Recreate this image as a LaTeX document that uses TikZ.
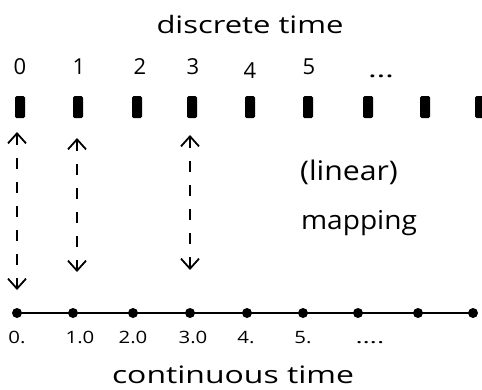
\documentclass[tikz,border=0pt]{standalone}
\usepackage{graphicx}
\usepackage{fontspec}
\setmainfont{Open Sans}
\usetikzlibrary{arrows.meta}
\newcommand\hscl[2]{\scalebox{#1}[1]{#2}}
\begin{document}
\begin{tikzpicture}[x=1pt,y=-1pt,
  bar/.style={fill=black,minimum width=10pt,minimum height=22pt,inner sep=0pt,rounded corners=1.5pt},
  dot/.style={circle,fill=black,minimum size=10pt,inner sep=0pt},
  lbl/.style={font=\fontsize{22}{26}\selectfont,inner sep=0pt,anchor=base},
  small/.style={font=\fontsize{17}{20}\selectfont,inner sep=0pt,anchor=base},
  title/.style={font=\fontsize{24}{28}\selectfont,inner sep=0pt,anchor=base},
  map/.style={dash pattern=on 11pt off 13pt,line width=1.8pt,{Straight Barb[length=10pt,width=18pt,line width=1.8pt]}-{Straight Barb[length=10pt,width=18pt,line width=1.8pt]}}]
\useasboundingbox (0,0) rectangle (482,389);
% title
\node[title] (dt) at (250,33) {\hscl{1.29}{discrete time}};
% digits
\node[lbl] (n0) at (20,74) {0};
\node[lbl] (n1) at (79,74) {1};
\node[lbl] (n2) at (140,74) {2};
\node[lbl] (n3) at (193,74) {3};
\node[lbl] (n4) at (250,78) {4};
\node[lbl] (n5) at (309,74) {5};
\node[lbl] (ndots) at (381,77) {\hscl{1.5}{\dots}};
% bars
\foreach \i/\x in {0/20,1/78,2/137,3/192,4/250,5/308,6/368,7/425,8/480}
  \node[bar] (d\i) at (\x,107) {};
% continuous axis dots
\foreach \i/\x in {0/17,1/73,2/133,3/190,4/247,5/303,6/358,7/418,8/473}
  \node[dot] (c\i) at (\x,313) {};
\draw[line width=2pt] (c0.center) -- (c8.center);
% labels under axis
\node[small] (m0) at (17,343) {\hscl{1.2}{0.}};
\node[small] (m1) at (80,343) {\hscl{1.2}{1.0}};
\node[small] (m2) at (133,343) {\hscl{1.2}{2.0}};
\node[small] (m3) at (193,343) {\hscl{1.2}{3.0}};
\node[small] (m4) at (246,343) {\hscl{1.2}{4.}};
\node[small] (m5) at (303,343) {\hscl{1.2}{5.}};
\node[small] (mdots) at (370,343) {\hscl{1.6}{\dots.}};
\node[title] (ct) at (233,383) {\hscl{1.33}{continuous time}};
% mapping arrows
\coordinate (a0t) at (17,132);
\coordinate (a0b) at (17,290);
\coordinate (a1t) at (77,138);
\coordinate (a1b) at (77,272);
\coordinate (a3t) at (190,135);
\coordinate (a3b) at (190,270);
\draw[map] (a0t) -- (a0b);
\draw[map] (a1t) -- (a1b);
\draw[map] (a3t) -- (a3b);
% mapping label
\node[lbl,font=\fontsize{27}{30}\selectfont] (lin) at (349,180) {\hscl{1.12}{(linear)}};
\node[lbl,font=\fontsize{26}{30}\selectfont] (mp) at (359,229) {\hscl{1.08}{mapping}};
\end{tikzpicture}
\end{document}
